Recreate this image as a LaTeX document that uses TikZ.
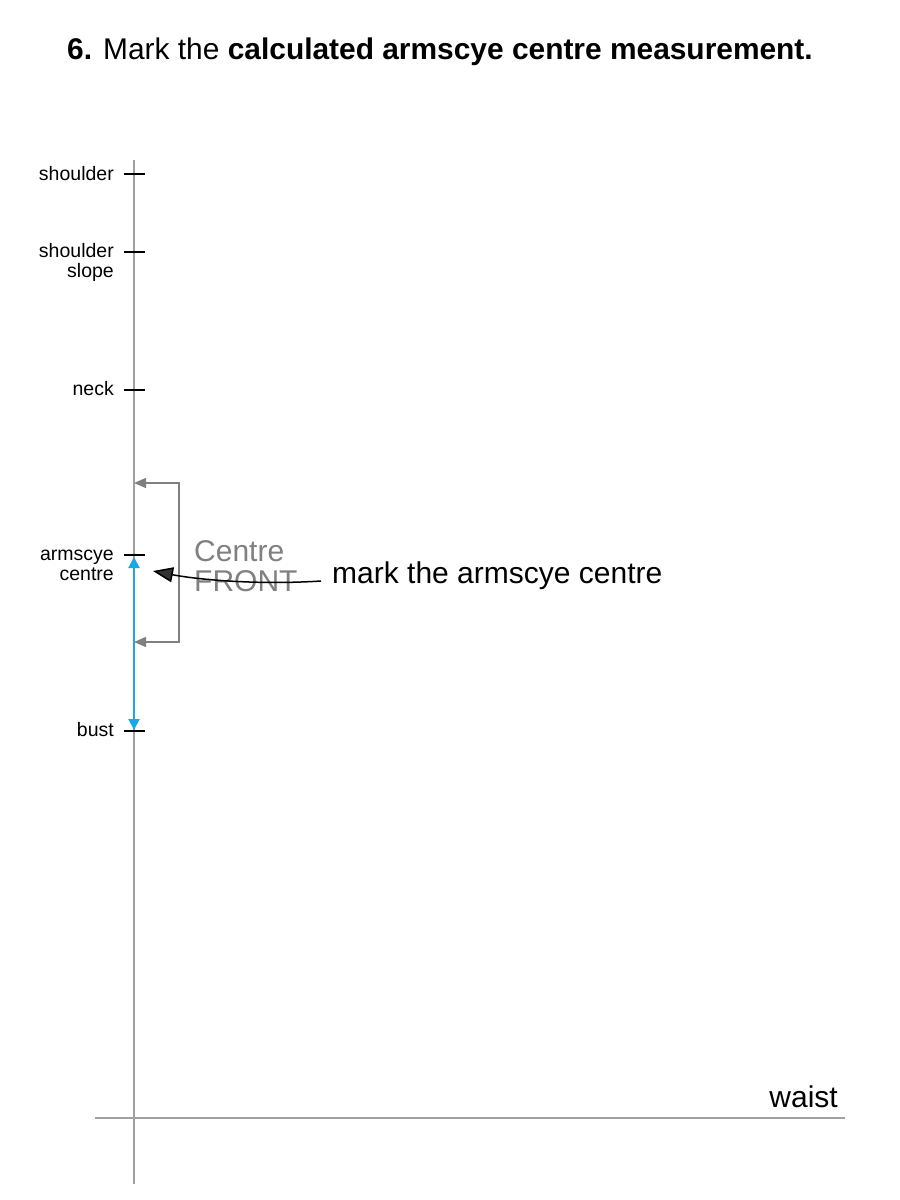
\documentclass[tikz,border=0pt]{standalone}
\usepackage{fontspec}
\setmainfont{Liberation Sans}
\usetikzlibrary{arrows.meta}
\definecolor{axisgray}{RGB}{160,160,160}
\definecolor{brackgray}{RGB}{128,128,128}
\definecolor{measblue}{RGB}{26,167,232}
\definecolor{headgray}{RGB}{50,50,50}
\begin{document}
\begin{tikzpicture}[x=1pt,y=-1pt,
  lbl/.style={inner sep=0pt,anchor=base east,font=\fontsize{19.5}{21}\selectfont,text=black},
  big/.style={inner sep=0pt,anchor=base west,font=\fontsize{30}{30}\selectfont},
  axisline/.style={draw=axisgray,line width=1.6pt},
  tick/.style={draw=black,line width=1.4pt},
  brack/.style={draw=brackgray,line width=1.3pt},
]
\useasboundingbox (0,0) rectangle (900,1200);
% title
\node[big,anchor=base west,font=\fontsize{29.9}{31}\selectfont] (title) at (67,59)
  {\textbf{6.} Mark the \textbf{calculated armscye centre measurement.}};
% axes
\coordinate (vtop) at (134,160);
\coordinate (vbot) at (134,1184);
\coordinate (hleft) at (95,1118);
\coordinate (hright) at (845,1118);
\draw[axisline] (vtop) -- (vbot);
\draw[axisline] (hleft) -- (hright);
% ticks
\foreach \y/\n in {174/tS,252/tSS,390/tN,555/tA,731/tB}{
  \coordinate (\n) at (134,\y);
  \draw[tick] (124,\y) -- (145,\y);
}
% labels
\node[lbl] (lShoulder) at (114,180) {shoulder};
\node[lbl] (lSlopeA) at (114,257) {shoulder};
\node[lbl] (lSlopeB) at (114,277) {slope};
\node[lbl] (lNeck) at (114,395) {neck};
\node[lbl] (lArmA) at (114,560) {armscye};
\node[lbl] (lArmB) at (114,580) {centre};
\node[lbl] (lBust) at (114,736) {bust};
% bracket
\coordinate (bTop) at (134,483);
\coordinate (bBot) at (134,642);
\coordinate (bTopR) at (179,483);
\coordinate (bBotR) at (179,642);
\draw[brack,-{Triangle[length=12pt,width=10pt]}] (bBotR) -- (bTopR) -- (bTop);
\draw[brack,-{Triangle[length=12pt,width=10pt]}] (bTopR) -- (bBotR) -- (bBot);
\node[big,text=brackgray] (cA) at (194,561) {Centre};
\node[big,text=brackgray] (cB) at (194,591) {FRONT};
% blue measurement
\coordinate (blTop) at (134,557);
\coordinate (blBot) at (134,730);
\draw[draw=measblue,line width=2pt,{Triangle[length=11pt,width=11pt]}-{Triangle[length=11pt,width=11pt]}] (blBot) -- (blTop);
% note
\node[big,text=black] (note) at (332,583) {mark the armscye centre};
\coordinate (aStart) at (321,581);
\coordinate (aEnd) at (153,571);
\draw[black,line width=1.5pt,-{Triangle[length=20pt,width=15pt,fill=headgray]}] (aStart) .. controls (260,585) and (200,580) .. (aEnd);
% waist
\node[big,anchor=base east] (waist) at (838,1107) {waist};
\end{tikzpicture}
\end{document}
